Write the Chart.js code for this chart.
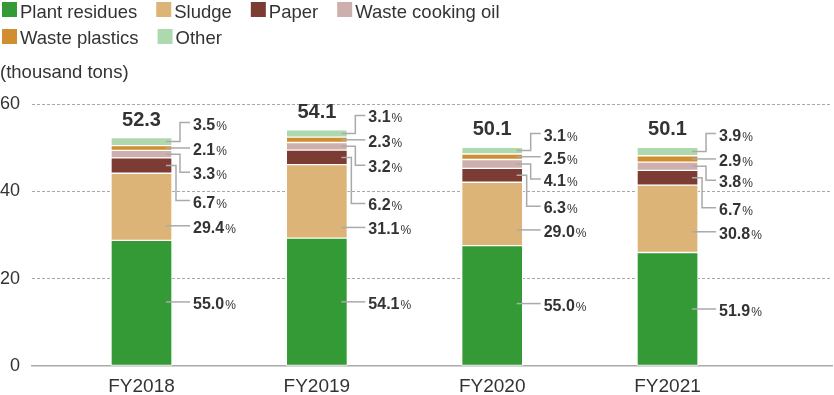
<!DOCTYPE html>
<html>
<head>
<meta charset="utf-8">
<script src="https://cdn.jsdelivr.net/npm/chart.js@4/dist/chart.umd.min.js"></script>
<style>
  html, body { margin: 0; padding: 0; background: #fff; }
  #wrap { width: 834px; height: 395px; position: relative; }
</style>
</head>
<body>
<div id="wrap"><canvas id="c" width="834" height="395"></canvas></div>
<script>
// ---- Data (thousand tons) ----
const categories = ['FY2018', 'FY2019', 'FY2020', 'FY2021'];
const totals = [52.3, 54.1, 50.1, 50.1];
const plantResidues   = [28.77, 29.27, 27.56, 26.00];
const sludge          = [15.38, 16.83, 14.53, 15.43];
const paper           = [3.50, 3.35, 3.16, 3.36];
const wasteCookingOil = [1.73, 1.73, 2.05, 1.90];
const wastePlastics   = [1.10, 1.24, 1.25, 1.45];
const other           = [1.83, 1.68, 1.55, 1.95];
// percentage labels
const pctPlant    = ['55.0', '54.1', '55.0', '51.9'];
const pctSludge   = ['29.4', '31.1', '29.0', '30.8'];
const pctPaper    = ['6.7', '6.2', '6.3', '6.7'];
const pctOil      = ['3.3', '3.2', '4.1', '3.8'];
const pctPlastics = ['2.1', '2.3', '2.5', '2.9'];
const pctOther    = ['3.5', '3.1', '3.1', '3.9'];
const yTicks = [0, 20, 40, 60];
const unitLabel = '(thousand tons)';

// ---- Styling / label layout (not data) ----
const FONT = "'Liberation Sans', Arial, Helvetica, sans-serif";
const TEXT = '#333333';
const series = [
  { name: 'Plant residues',    data: plantResidues,   pct: pctPlant,    color: '#339a35', leader: 'straight', shift: [-1, 0, -2, 0] },
  { name: 'Sludge',            data: sludge,          pct: pctSludge,   color: '#dcb478', leader: 'straight', shift: [19, 26, 16, 13] },
  { name: 'Paper',             data: paper,           pct: pctPaper,    color: '#7c3b33', leader: 'elbow', elbow: 4, shift: [35, 46, 31, 30] },
  { name: 'Waste cooking oil', data: wasteCookingOil, pct: pctOil,      color: '#cdb0ad', leader: 'elbow', elbow: 8, shift: [18, 19, 15, 14] },
  { name: 'Waste plastics',    data: wastePlastics,   pct: pctPlastics, color: '#d08e30', leader: 'straight', shift: [0, 0, 0, 0] },
  { name: 'Other',             data: other,           pct: pctOther,    color: '#aed8ae', leader: 'elbow', elbow: 8, shift: [-19, -18, -17, -18] }
];

Chart.defaults.font.family = FONT;
Chart.defaults.color = TEXT;

const legendPlugin = {
  id: 'customLegend',
  afterDraw(chart) {
    const ctx = chart.ctx;
    ctx.save();
    ctx.font = '18.5px ' + FONT;
    ctx.textBaseline = 'alphabetic';
    ctx.textAlign = 'left';
    const maxW = 560, box = 15, gap = 3, itemGap = 19;
    let x = 2, row = 0;
    const boxTop = [2, 29], base = [17.5, 43.5];
    chart.data.datasets.forEach((ds) => {
      const tw = ctx.measureText(ds.label).width;
      const w = box + gap + tw;
      if (x + w > maxW) { row++; x = 2; }
      ctx.fillStyle = ds.backgroundColor;
      ctx.fillRect(x, boxTop[row], box, box);
      ctx.fillStyle = TEXT;
      ctx.fillText(ds.label, x + box + gap, base[row]);
      x += w + itemGap;
    });
    ctx.fillText(unitLabel, 0, 78);
    ctx.restore();
  }
};

const labelPlugin = {
  id: 'segLabels',
  afterDatasetsDraw(chart) {
    const ctx = chart.ctx;
    ctx.save();
    categories.forEach((cat, i) => {
      series.forEach((s, d) => {
        const el = chart.getDatasetMeta(d).data[i];
        const right = el.x + el.width / 2;
        const mid = (el.y + el.base) / 2;
        const ly = mid + s.shift[i];
        const x0 = right - 6, x1 = right + 18;
        ctx.strokeStyle = '#aaaaaa';
        ctx.lineWidth = 1.5;
        ctx.beginPath();
        if (s.leader === 'elbow') {
          const ex = right + s.elbow;
          ctx.moveTo(x0, mid); ctx.lineTo(ex, mid); ctx.lineTo(ex, ly); ctx.lineTo(x1, ly);
        } else {
          ctx.moveTo(x0, ly); ctx.lineTo(x1, ly);
        }
        ctx.stroke();
        const tx = right + 21;
        ctx.fillStyle = TEXT;
        ctx.textAlign = 'left';
        ctx.textBaseline = 'alphabetic';
        ctx.font = 'bold 16px ' + FONT;
        ctx.fillText(s.pct[i], tx, ly + 7);
        const w = ctx.measureText(s.pct[i]).width;
        ctx.font = '12px ' + FONT;
        ctx.fillText('%', tx + w + 1, ly + 7);
      });
      // total on top
      const topEl = chart.getDatasetMeta(series.length - 1).data[i];
      ctx.font = 'bold 20px ' + FONT;
      ctx.textAlign = 'center';
      ctx.textBaseline = 'alphabetic';
      ctx.fillStyle = TEXT;
      ctx.fillText(totals[i].toFixed(1), topEl.x, topEl.y - 12);
    });
    ctx.restore();
  }
};

new Chart(document.getElementById('c'), {
  type: 'bar',
  data: {
    datasets: series.map(s => ({
      label: s.name,
      data: s.data.map((v, i) => ({ x: i, y: v })),
      backgroundColor: s.color,
      borderColor: '#ffffff',
      borderWidth: 1,
      borderSkipped: false,
      barThickness: 61
    }))
  },
  options: {
    responsive: false,
    animation: false,
    events: [],
    layout: { padding: { top: 104, left: 0, right: 2, bottom: 0 } },
    plugins: { legend: { display: false }, tooltip: { enabled: false } },
    scales: {
      x: {
        type: 'linear',
        stacked: true,
        offset: false,
        min: -0.6245,
        max: 3.938,
        afterBuildTicks: (scale) => { scale.ticks = categories.map((c, i) => ({ value: i })); },
        afterFit: (scale) => { scale.height = 29; },
        ticks: {
          autoSkip: false, maxRotation: 0, padding: 9,
          font: { size: 19 }, color: TEXT,
          callback: (v) => categories[v]
        },
        grid: { display: true, color: 'transparent', drawTicks: false },
        border: { display: true, color: '#aaaaaa', width: 1.5 }
      },
      y: {
        stacked: true,
        min: 0,
        max: 60,
        afterBuildTicks: (scale) => { scale.ticks = yTicks.map(v => ({ value: v })); },
        afterFit: (scale) => { scale.width = 32; },
        ticks: { padding: 12, font: { size: 18 }, color: TEXT },
        grid: {
          drawTicks: false,
          lineWidth: 1,
          color: (c) => (c.tick && c.tick.value === 0) ? 'transparent' : '#a8a8a8'
        },
        border: { display: false, dash: [3, 2] }
      }
    }
  },
  plugins: [legendPlugin, labelPlugin]
});
</script>
</body>
</html>
